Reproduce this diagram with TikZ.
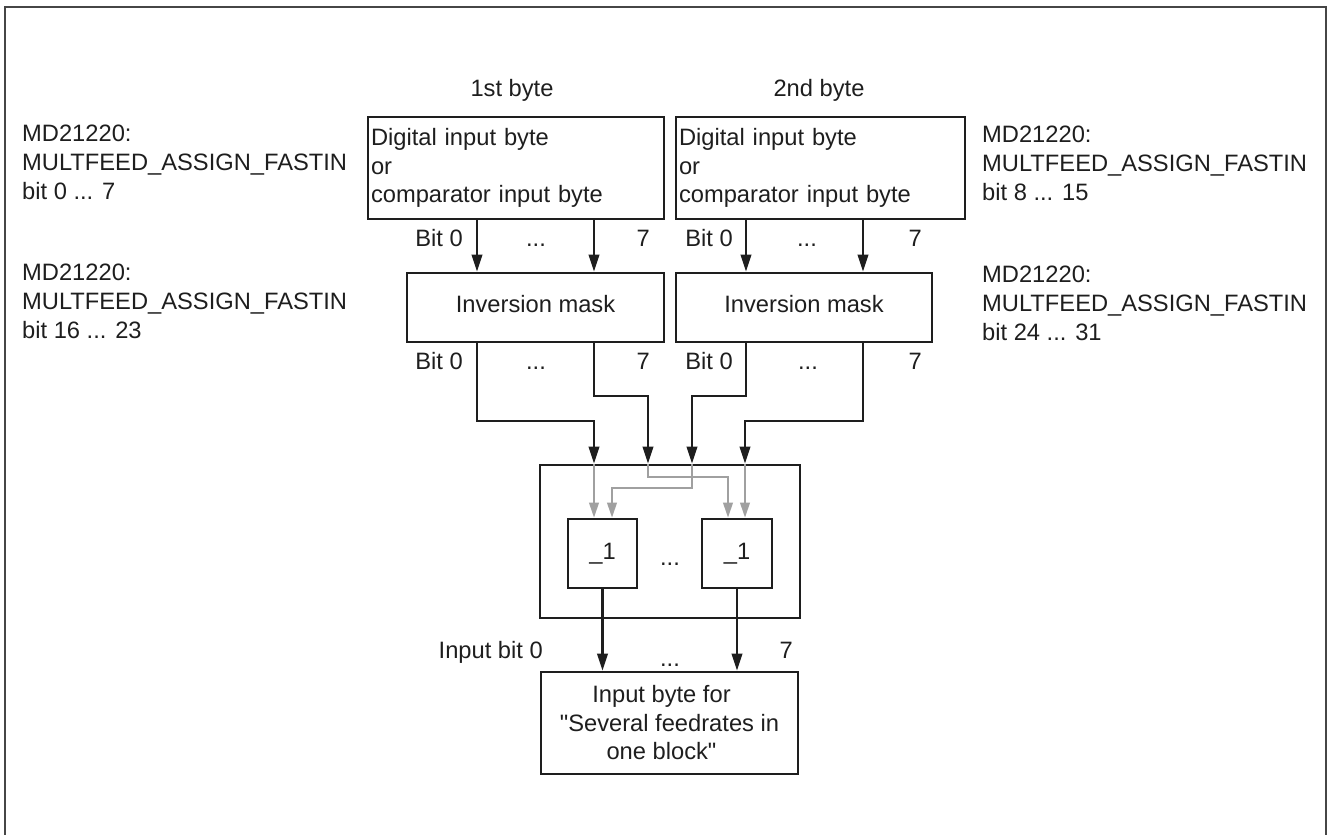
\documentclass[tikz,border=0pt]{standalone}
\usepackage{fontspec}
\setmainfont{Liberation Sans}[Ligatures=TeXOff]
\usetikzlibrary{arrows.meta}
\definecolor{ink}{RGB}{30,30,30}
\definecolor{graylink}{RGB}{160,160,160}
\definecolor{framecol}{RGB}{70,70,70}
\begin{document}
\begin{tikzpicture}[x=1pt,y=-1pt,
  every node/.style={font=\fontsize{23.7}{28.5}\selectfont, text=ink},
  box/.style={draw=ink, line width=2.6pt, inner sep=0pt},
  lbl/.style={inner sep=0pt},
  grp/.style={inner sep=0pt, anchor=north west, align=left, font=\fontsize{23.7}{29}\selectfont},
  arr/.style={draw=ink, line width=2.2pt, line join=miter, -{Triangle[length=17pt,width=10.5pt]}},
  garr/.style={draw=graylink, line width=2.2pt, line join=miter, -{Triangle[length=15pt,width=9.5pt]}}
]
\useasboundingbox (0,0) rectangle (1328,835);
\draw[framecol, line width=2pt] (5,835) -- (5,7) -- (1326,7) -- (1326,835);

% headings
\node[lbl, anchor=base] (h1) at (512,96) {1st byte};
\node[lbl, anchor=base] (h2) at (819,96) {2nd byte};

% side texts
\node[grp] (l1) at (22,125) {MD21220:\\MULTFEED\_ASSIGN\_FASTIN\\bit 0 ... 7};
\node[grp] (l2) at (22,264) {MD21220:\\MULTFEED\_ASSIGN\_FASTIN\\bit 16 ... 23};
\node[grp] (r1) at (982,126) {MD21220:\\MULTFEED\_ASSIGN\_FASTIN\\bit 8 ... 15};
\node[grp] (r2) at (982,266) {MD21220:\\MULTFEED\_ASSIGN\_FASTIN\\bit 24 ... 31};

% boxes
\node[box, minimum width=296, minimum height=102, text width=290, align=left] (b1) at (516,168)
  {Digital input byte\\or\\comparator input byte};
\node[box, minimum width=289, minimum height=102, text width=283, align=left] (b2) at (820.5,168)
  {Digital input byte\\or\\comparator input byte};
\node[box, minimum width=257, minimum height=69] (inv1) at (535.5,307.5) {\raisebox{7pt}{Inversion mask}};
\node[box, minimum width=256, minimum height=69] (inv2) at (804,307.5) {\raisebox{7pt}{Inversion mask}};
\node[box, minimum width=260, minimum height=153] (comb) at (670,541.5) {};
\node[box, minimum width=69, minimum height=69] (or1) at (602.5,553.5) {\_1};
\node[box, minimum width=70, minimum height=69] (or2) at (737,553.5) {\_1};
\node[box, minimum width=257, minimum height=102, align=center] (out) at (669.5,723)
  {Input byte for\hspace*{16pt}\\"Several feedrates in\hspace*{16pt}\\one block"\hspace*{16pt}};

% row 1 labels
\node[lbl, anchor=base east] (a1) at (463,246) {Bit 0};
\node[lbl, anchor=base] (a2) at (536,246) {...};
\node[lbl, anchor=base east] (a3) at (650,246) {7};
\node[lbl, anchor=base east] (a4) at (733,246) {Bit 0};
\node[lbl, anchor=base] (a5) at (807,246) {...};
\node[lbl, anchor=base east] (a6) at (922,246) {7};

% row 2 labels
\node[lbl, anchor=base east] (c1) at (463,369) {Bit 0};
\node[lbl, anchor=base] (c2) at (536,369) {...};
\node[lbl, anchor=base east] (c3) at (650,369) {7};
\node[lbl, anchor=base east] (c4) at (733,369) {Bit 0};
\node[lbl, anchor=base] (c5) at (808,369) {...};
\node[lbl, anchor=base east] (c6) at (922,369) {7};

% combiner dots and output labels
\node[lbl, anchor=base] (d1) at (670,565) {...};
\node[lbl, anchor=base east] (o1) at (543,658) {Input bit 0};
\node[lbl, anchor=base] (o2) at (670,666) {...};
\node[lbl, anchor=base east] (o3) at (793,658) {7};

% box -> inversion mask
\draw[arr] (b1.south -| 477,0) -- (inv1.north -| 477,0);
\draw[arr] (b1.south -| 594,0) -- (inv1.north -| 594,0);
\draw[arr] (b2.south -| 746,0) -- (inv2.north -| 746,0);
\draw[arr] (b2.south -| 863,0) -- (inv2.north -| 863,0);

% inversion mask -> combiner
\draw[arr] (inv1.south -| 477,0) |- (594,421) -- (comb.north -| 594,0);
\draw[arr] (inv1.south -| 594,0) |- (648,396) -- (comb.north -| 648,0);
\draw[arr] (inv2.south -| 746,0) |- (692,396) -- (comb.north -| 692,0);
\draw[arr] (inv2.south -| 863,0) |- (745,421) -- (comb.north -| 745,0);

% gray internal links
\draw[garr] (comb.north -| 594,0) -- (or1.north -| 594,0);
\draw[garr] (comb.north -| 648,0) -- (648,477) -| (or2.north -| 728,0);
\draw[garr] (comb.north -| 692,0) -- (692,488) -| (or1.north -| 612,0);
\draw[garr] (comb.north -| 745,0) -- (or2.north -| 745,0);

% outputs
\draw[arr] (or1.south) -- (out.north -| or1.south);
\draw[arr] (or2.south) -- (out.north -| or2.south);
\end{tikzpicture}
\end{document}
